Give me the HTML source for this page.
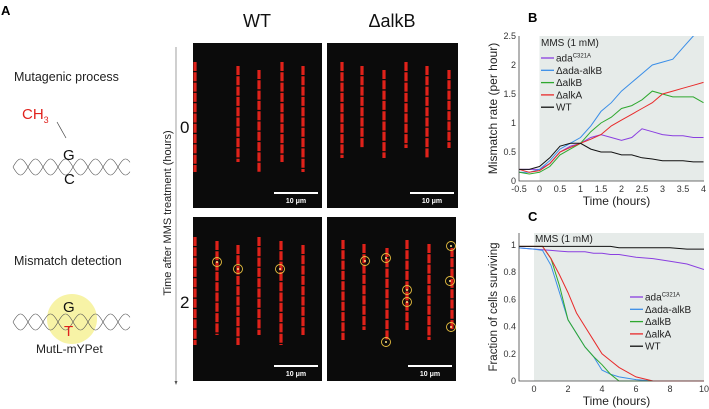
<!DOCTYPE html>
<html><head><meta charset="utf-8">
<style>
body{margin:0;background:#fff;}
svg{display:block;font-family:"Liberation Sans",sans-serif;}
</style></head>
<body>
<svg id="fig" width="709" height="409" viewBox="0 0 709 409" xmlns="http://www.w3.org/2000/svg">
<text x="1" y="15" font-size="13" font-weight="bold">A</text>
<text x="528" y="22" font-size="13" font-weight="bold">B</text>
<text x="528" y="221" font-size="13" font-weight="bold">C</text>

<g>
<text x="14" y="81" font-size="12.5" fill="#222">Mutagenic process</text>
<text x="22" y="119" font-size="15" fill="#e0231e">CH<tspan font-size="9" dy="4">3</tspan></text>
<line x1="57" y1="122" x2="66" y2="138" stroke="#444" stroke-width="0.7"/>
<g id="helix1"></g>
<text x="63" y="160" font-size="15" fill="#111">G</text>
<text x="64" y="184" font-size="15" fill="#111">C</text>
</g>
<g>
<text x="14" y="265" font-size="12.5" fill="#222">Mismatch detection</text>
<circle cx="72" cy="319" r="25" fill="#f7f3a6"/>
<g id="helix2"></g>
<text x="63" y="312" font-size="15" fill="#111">G</text>
<text x="64" y="336" font-size="15" fill="#e0231e">T</text>
<text x="36" y="353" font-size="12" fill="#222">MutL-mYPet</text>
</g>

<text transform="translate(171,213) rotate(-90)" text-anchor="middle" font-size="11" fill="#222">Time after MMS treatment (hours)</text>
<line x1="176" y1="47" x2="176" y2="383" stroke="#777" stroke-width="0.7"/>
<path d="M174.5 381 L176 385 L177.5 381Z" fill="#555"/>
<text x="180" y="133" font-size="17" fill="#111">0</text>
<text x="180" y="308" font-size="17" fill="#111">2</text>
<text x="257" y="27" font-size="18" text-anchor="middle" fill="#111">WT</text>
<text x="392" y="27" font-size="18" text-anchor="middle" fill="#111">ΔalkB</text>
<g id="micro"></g>

<g id="chartB"></g>
<g id="chartC"></g>
</svg>
<script>
// ---- Panel B data ----
const bTimes=[-0.5,-0.25,0,0.25,0.5,0.75,1,1.25,1.5,1.75,2,2.25,2.5,2.75,3,3.25,3.5,3.75,4];
const bAda=[0.2,0.2,0.2,0.3,0.5,0.6,0.65,0.75,0.8,0.75,0.7,0.75,0.9,0.85,0.8,0.78,0.78,0.75,0.75];
const bAdaAlkB=[0.15,0.15,0.2,0.35,0.55,0.65,0.75,0.95,1.2,1.35,1.55,1.7,1.85,2.0,2.05,2.1,2.3,2.5,2.6];
const bAlkB=[0.15,0.12,0.15,0.25,0.45,0.55,0.65,0.85,1.0,1.1,1.25,1.3,1.4,1.55,1.5,1.45,1.45,1.45,1.35];
const bAlkA=[0.2,0.15,0.18,0.3,0.5,0.58,0.65,0.72,0.8,0.95,1.05,1.15,1.25,1.35,1.5,1.55,1.6,1.65,1.7];
const bWT=[0.2,0.2,0.25,0.4,0.6,0.65,0.65,0.55,0.5,0.5,0.45,0.45,0.4,0.38,0.35,0.35,0.35,0.33,0.33];
const bXTicks=[-0.5,0,0.5,1,1.5,2,2.5,3,3.5,4];
const bYTicks=[0,0.5,1,1.5,2,2.5];
// ---- Panel C data ----
const cTimes=[-1,0,0.5,1,1.5,2,2.5,3,3.5,4,4.5,5,6,7,8,9,10];
const cWT=[0.99,0.99,0.99,0.99,0.99,0.99,0.99,0.99,0.99,0.99,0.99,0.98,0.98,0.98,0.98,0.97,0.97];
const cAda=[0.98,0.97,0.965,0.96,0.955,0.95,0.95,0.95,0.94,0.94,0.93,0.93,0.91,0.9,0.88,0.86,0.82];
const cAdaAlkB=[0.98,0.97,0.96,0.85,0.65,0.45,0.35,0.25,0.18,0.08,0.05,0.03,0.01,0,0,0,0];
const cAlkB=[0.99,0.99,0.99,0.9,0.7,0.45,0.35,0.25,0.18,0.12,0.05,0,0,0,0,0,0];
const cAlkA=[0.99,0.99,0.99,0.9,0.78,0.65,0.5,0.4,0.3,0.2,0.15,0.1,0.03,0,0,0,0];
const cXTicks=[0,2,4,6,8,10];
const cYTicks=[0,0.2,0.4,0.6,0.8,1];
const names=["ada","Δada-alkB","ΔalkB","ΔalkA","WT"];
const colors=["#8a3fe0","#3a8ee8","#2fa82f","#e82a2a","#111"];

const NS="http://www.w3.org/2000/svg";
function mk(parent,tag,attrs){const e=document.createElementNS(NS,tag);for(const k in attrs)e.setAttribute(k,attrs[k]);parent.appendChild(e);return e;}

function helix(g,cy,x0,x1){
  for(const ph of [0,Math.PI]){let d="";for(let x=x0;x<=x1;x+=1){const y=cy+8*Math.sin((x-x0)/15*Math.PI+ph);d+=(x==x0?"M":"L")+x+" "+y.toFixed(1);}
  const p=mk(g,"path",{d:d,fill:"none",stroke:"#555","stroke-width":"0.6"});
  
  }
}
helix(document.getElementById('helix1'),167,13,130);
helix(document.getElementById('helix2'),322,13,130);

const micro=document.getElementById('micro');
const panels=[
 {x:193,y:43,w:129,h:165,cols:[195,238,259,282,303],y0:62,y1:172,circles:[]},
 {x:327,y:43,w:131,h:165,cols:[342,362,384,406,427,449],y0:62,y1:158,circles:[]},
 {x:193,y:217,w:129,h:164,cols:[195,217,238,259,281,303],y0:237,y1:345,circles:[[217,262],[238,269],[280,269]]},
 {x:327,y:217,w:129,h:164,cols:[343,364,387,407,429,452],y0:240,y1:340,circles:[[365,261],[386,258],[407,290],[407,302],[451,246],[450,281],[451,327],[386,342]]}];
panels.forEach((p,i)=>{
  const r=mk(micro,"rect",{x:p.x,y:p.y,width:p.w,height:p.h,fill:"#0b0b0b"});
  
  
  p.cols.forEach((cx,j)=>{const l=mk(micro,"line",{x1:cx,y1:p.y0+(j%3)*4,x2:cx,y2:p.y1-(j%2)*10,stroke:"#e0221a","stroke-width":"3.2","stroke-dasharray":"9 1.3","stroke-linecap":"butt"});
    
    });
  p.circles.forEach(c=>{const ci=mk(micro,"circle",{cx:c[0],cy:c[1],r:4.5,fill:"none",stroke:"#e8c040","stroke-width":"0.9"});
    
    
    const d=mk(micro,"circle",{cx:c[0],cy:c[1],r:1,fill:"#ffe98a"});
    
    });
  const bx=p.x+p.w-48,by=p.y+p.h-15;
  const sb=mk(micro,"line",{x1:bx,y1:by,x2:bx+44,y2:by,stroke:"#fff","stroke-width":"2"});
  
  
  const t=mk(micro,"text",{x:bx+22,y:by+10,"text-anchor":"middle","font-size":"7","font-weight":"bold",fill:"#fff"});t.textContent="10 μm";
  
  
});

function chart(g,o){
  const sx=t=>o.px0+(t-o.x0)*o.kx, sy=v=>o.py0-(v-o.y0)*o.ky;
  const bg=mk(g,"rect",{x:sx(0),y:o.top,width:o.right-sx(0),height:o.py0-o.top,fill:"#e6ebe9"});
  
  
  const cid="clip"+o.id;const cp=mk(g,"clipPath",{id:cid});mk(cp,"rect",{x:o.left,y:o.top,width:o.right-o.left,height:o.py0-o.top+1});
  o.series.forEach((s,i)=>{let d="";o.times.forEach((t,k)=>{d+=(k?"L":"M")+sx(t).toFixed(1)+" "+sy(s[k]).toFixed(1);});
    const p=mk(g,"path",{d:d,fill:"none",stroke:colors[i],"stroke-width":"1","clip-path":"url(#"+cid+")"});
    
    });
  const ax=mk(g,"path",{d:`M${o.left} ${o.top}V${o.py0}H${o.right}`,fill:"none",stroke:"#444","stroke-width":"0.8"});
  
  
  o.xt.forEach(t=>{const tx=mk(g,"text",{x:sx(t),y:o.py0+11,"text-anchor":"middle","font-size":"9",fill:"#333"});tx.textContent=t;
    
    });
  o.yt.forEach(v=>{const tx=mk(g,"text",{x:o.left-3,y:sy(v)+3,"text-anchor":"end","font-size":"9",fill:"#333"});tx.textContent=v;
    
    });
  const xl=mk(g,"text",{x:(o.left+o.right)/2+5,y:o.py0+24,"text-anchor":"middle","font-size":"12",fill:"#222"});xl.textContent="Time (hours)";
  
  
  const yl=mk(g,"text",{transform:`translate(${o.left-22},${(o.top+o.py0)/2}) rotate(-90)`,"text-anchor":"middle","font-size":o.ylfs,fill:"#222"});yl.textContent=o.ylab;
  
  
  const mm=mk(g,"text",{x:o.mx,y:o.my,"font-size":"10",fill:"#222"});mm.textContent="MMS (1 mM)";
  
  
  names.forEach((n,i)=>{const y=o.ly+i*12.3;
    const l=mk(g,"line",{x1:o.lx,y1:y,x2:o.lx+13,y2:y,stroke:colors[i],"stroke-width":"1.3"});
    
    
    const t=mk(g,"text",{x:o.lx+15,y:y+3.5,"font-size":"10",fill:"#222"});t.textContent=n;
    if(i==0){const s=mk(t,"tspan",{"font-size":"6",dy:"-4"});s.textContent="C321A";}
    
    });
}
chart(document.getElementById('chartB'),{id:"B",times:bTimes,series:[bAda,bAdaAlkB,bAlkB,bAlkA,bWT],x0:-0.5,px0:519,kx:41,y0:0,py0:181,ky:58,
  left:519,right:704,top:36,xt:bXTicks,yt:bYTicks,ylab:"Mismatch rate (per hour)",ylfs:"12",mx:541,my:46,lx:541,ly:58});
chart(document.getElementById('chartC'),{id:"C",times:cTimes,series:[cAda,cAdaAlkB,cAlkB,cAlkA,cWT],x0:0,px0:534,kx:17,y0:0,py0:381,ky:136,
  left:519,right:704,top:233,xt:cXTicks,yt:cYTicks,ylab:"Fraction of cells surviving",ylfs:"11.5",mx:535,my:242,lx:630,ly:297});
</script>
</body></html>
